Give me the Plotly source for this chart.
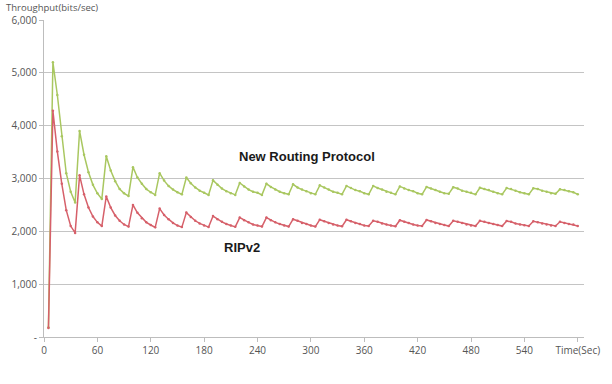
import plotly.graph_objects as go

time_sec = list(range(5, 605, 5))

new_routing = [
    180,
    5200, 4580, 3800, 3100, 2750, 2545,
    3900, 3450, 3120, 2880, 2720, 2610,
    3420, 3150, 2950, 2800, 2720, 2670,
    3215, 3020, 2900, 2800, 2740, 2690,
    3100, 2960, 2860, 2790, 2740, 2700,
    3020, 2910, 2830, 2770, 2730, 2690,
    2965, 2880, 2810, 2760, 2720, 2690,
    2915, 2850, 2790, 2750, 2730, 2690,
    2900, 2840, 2790, 2750, 2720, 2700,
    2890, 2830, 2790, 2760, 2720, 2700,
    2870, 2830, 2790, 2750, 2730, 2700,
    2860, 2820, 2780, 2760, 2720, 2700,
    2860, 2820, 2790, 2750, 2730, 2700,
    2850, 2810, 2780, 2760, 2720, 2700,
    2840, 2810, 2780, 2750, 2720, 2710,
    2835, 2810, 2770, 2750, 2730, 2700,
    2825, 2800, 2780, 2750, 2720, 2700,
    2820, 2800, 2770, 2740, 2720, 2700,
    2815, 2800, 2770, 2750, 2720, 2710,
    2795, 2780, 2760, 2740, 2700,
]

ripv2 = [
    170,
    4280, 3510, 2900, 2400, 2100, 1970,
    3060, 2700, 2450, 2280, 2170, 2100,
    2660, 2450, 2300, 2200, 2130, 2090,
    2500, 2350, 2250, 2170, 2120, 2075,
    2430, 2310, 2230, 2160, 2110, 2080,
    2355, 2270, 2200, 2150, 2110, 2080,
    2290, 2230, 2180, 2140, 2110, 2085,
    2260, 2210, 2170, 2130, 2110, 2090,
    2260, 2210, 2170, 2140, 2110, 2090,
    2230, 2200, 2160, 2140, 2110, 2090,
    2220, 2190, 2160, 2130, 2110, 2095,
    2220, 2190, 2160, 2140, 2110, 2100,
    2200, 2180, 2150, 2130, 2110, 2095,
    2210, 2180, 2160, 2130, 2110, 2100,
    2215, 2190, 2160, 2140, 2120, 2100,
    2200, 2180, 2160, 2130, 2110, 2100,
    2200, 2180, 2160, 2140, 2120, 2100,
    2195, 2180, 2150, 2130, 2115, 2100,
    2190, 2170, 2150, 2130, 2110, 2100,
    2180, 2160, 2140, 2130, 2100,
]

x_tick_vals = [0, 60, 120, 180, 240, 300, 360, 420, 480, 540, 600]
x_tick_text = ["0", "60", "120", "180", "240", "300", "360", "420", "480", "540", "Time(Sec)"]
y_tick_vals = [0, 1000, 2000, 3000, 4000, 5000, 6000]
y_tick_text = ["-", "1,000", "2,000", "3,000", "4,000", "5,000", "6,000"]

fig = go.Figure()
fig.add_trace(go.Scatter(x=time_sec, y=new_routing, mode="lines+markers",
                         line=dict(color="#a9c760", width=1.5),
                         marker=dict(size=2.5, color="#a9c760"),
                         name="New Routing Protocol"))
fig.add_trace(go.Scatter(x=time_sec, y=ripv2, mode="lines+markers",
                         line=dict(color="#d6606a", width=1.5),
                         marker=dict(size=2.5, color="#d6606a"),
                         name="RIPv2"))

fig.update_layout(
    width=612, height=384,
    margin=dict(l=43, r=17, t=18, b=47),
    plot_bgcolor="white", paper_bgcolor="white",
    showlegend=False,
    font=dict(family="Open Sans", size=10, color="#555555"),
    xaxis=dict(range=[0, 607], tickmode="array", tickvals=x_tick_vals, ticktext=x_tick_text,
               showgrid=False, zeroline=False, showline=True, linecolor="#bdbdbd", linewidth=1,
               ticks="outside", ticklen=4, tickcolor="#bdbdbd",
               tickfont=dict(family="Open Sans", size=10, color="#555555")),
    yaxis=dict(range=[0, 6000], tickmode="array", tickvals=y_tick_vals, ticktext=y_tick_text,
               showgrid=True, gridcolor="#c4c4c4", gridwidth=1, zeroline=False,
               showline=True, linecolor="#bdbdbd", linewidth=1,
               ticks="outside", ticklen=4, tickcolor="#bdbdbd",
               tickfont=dict(family="Open Sans", size=10, color="#555555")),
    annotations=[
        dict(text="Throughput(bits/sec)", xref="paper", yref="paper", x=-0.075, y=1.0,
             xanchor="left", yanchor="middle", showarrow=False, yshift=13,
             font=dict(family="Open Sans", size=9.5, color="#555555")),
        dict(text="<b>New Routing Protocol</b>", x=296, y=3420, xref="x", yref="y",
             showarrow=False, font=dict(family="Liberation Sans", size=13, color="#1a1a1a")),
        dict(text="<b>RIPv2</b>", x=222, y=1690, xref="x", yref="y",
             showarrow=False, font=dict(family="Liberation Sans", size=13, color="#1a1a1a")),
    ],
)

fig.write_html("out.html")
